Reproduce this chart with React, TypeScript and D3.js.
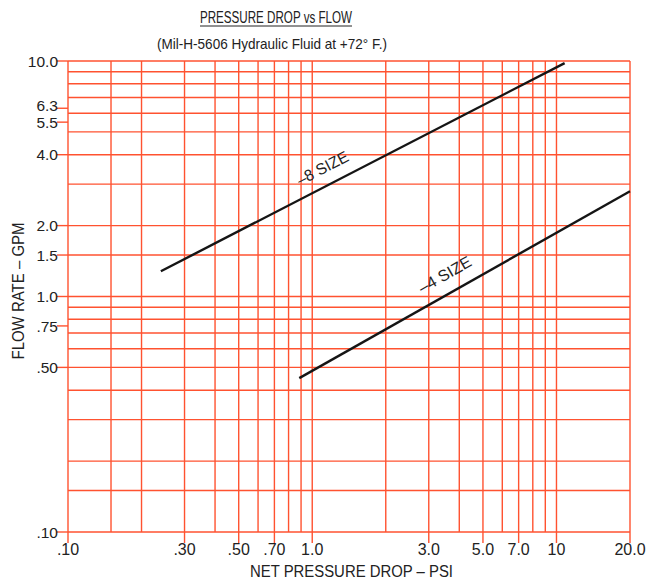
import React from "react";
import * as d3 from "d3";

// ---- data ----
const xGridValues = [0.1, 0.15, 0.2, 0.3, 0.4, 0.5, 0.6, 0.7, 0.8, 0.9, 1, 2, 3, 4, 5, 6, 7, 8, 9, 10, 20];
const yGridValues = [0.1, 0.15, 0.2, 0.3, 0.4, 0.5, 0.6, 0.7, 0.8, 0.9, 1, 1.5, 2, 3, 4, 5, 6, 7, 8, 9, 10];
const xTickValues = [0.1, 0.3, 0.5, 0.7, 1, 3, 5, 7, 10, 20];
const xTickLabels = [".10", ".30", ".50", ".70", "1.0", "3.0", "5.0", "7.0", "10", "20.0"];
const yTickValues = [10, 6.3, 5.5, 4, 2, 1.5, 1, 0.75, 0.5, 0.1];
const yTickLabels = ["10.0", "6.3", "5.5", "4.0", "2.0", "1.5", "1.0", ".75", ".50", ".10"];

const size8Pressure = [0.24, 10.8];
const size8Flow = [1.28, 9.8];
const size4Pressure = [0.885, 20];
const size4Flow = [0.45, 2.8];

const seriesNames = ["\u20138 SIZE", "\u20134 SIZE"];
const labelPressure = [0.94, 3.0];

const W = 649;
const H = 580;
const GRID = "#ff5230";
const INK = "#222";

export default function App() {
  const x = d3.scaleLog().domain([0.1, 20]).range([68, 630]);
  const y = d3.scaleLog().domain([0.1, 10]).range([532, 61]);
  const line = d3
    .line<[number, number]>()
    .x((d) => x(d[0]))
    .y((d) => y(d[1]));

  const series = [
    { p: size8Pressure, f: size8Flow, name: seriesNames[0], lp: labelPressure[0], off: 12, len: 56 },
    { p: size4Pressure, f: size4Flow, name: seriesNames[1], lp: labelPressure[1], off: 13, len: 58 },
  ];

  const font = "'Liberation Sans', Arial, sans-serif";

  return (
    <svg width={W} height={H} style={{ position: "absolute", left: 0, top: 0, background: "#fff" }} fontFamily={font}>
      <rect width={W} height={H} fill="#fff" />
      {/* titles */}
      <text x={276} y={23} textAnchor="middle" fontSize={16} fill={INK} textLength={152} lengthAdjust="spacingAndGlyphs">
        PRESSURE DROP vs FLOW
      </text>
      <line x1={200} x2={352} y1={26} y2={26} stroke={INK} strokeWidth={1} />
      <text x={272} y={49} textAnchor="middle" fontSize={15} fill={INK} textLength={230} lengthAdjust="spacingAndGlyphs">
        (Mil-H-5606  Hydraulic Fluid at  +72° F.)
      </text>

      {/* grid */}
      {xGridValues.map((v) => (
        <line key={"gx" + v} x1={x(v)} x2={x(v)} y1={y(10)} y2={y(0.1)} stroke={GRID} strokeWidth={1.4} />
      ))}
      {yGridValues.map((v) => (
        <line key={"gy" + v} x1={x(0.1)} x2={x(20)} y1={y(v)} y2={y(v)} stroke={GRID} strokeWidth={1.4} />
      ))}

      {/* y ticks */}
      {yTickValues.map((v, i) => (
        <g key={"yt" + v}>
          <line x1={x(0.1) - 11} x2={x(0.1)} y1={y(v)} y2={y(v)} stroke={GRID} strokeWidth={1.4} />
          <text
            x={x(0.1) - 10}
            y={y(v) + (v === 6.3 ? -3 : 0)}
            dy="0.36em"
            textAnchor="end"
            fontSize={15.5}
            fill={INK}
          >
            {yTickLabels[i]}
          </text>
        </g>
      ))}

      {/* x ticks */}
      {xTickValues.map((v, i) => (
        <g key={"xt" + v}>
          <line x1={x(v)} x2={x(v)} y1={y(0.1)} y2={y(0.1) + 11} stroke={GRID} strokeWidth={1.4} />
          <text x={x(v)} y={555} textAnchor="middle" fontSize={16} fill={INK}>
            {xTickLabels[i]}
          </text>
        </g>
      ))}

      {/* axis titles */}
      <text
        transform={`translate(24,291) rotate(-90)`}
        textAnchor="middle"
        fontSize={16}
        fill={INK}
        textLength={137}
        lengthAdjust="spacingAndGlyphs"
      >
        FLOW RATE – GPM
      </text>
      <text x={351.5} y={577} textAnchor="middle" fontSize={16} fill={INK} textLength={203} lengthAdjust="spacingAndGlyphs">
        NET PRESSURE DROP – PSI
      </text>

      {/* series */}
      {series.map((s) => {
        const pts: [number, number][] = s.p.map((p, i) => [p, s.f[i]]);
        const x0 = x(s.p[0]), y0 = y(s.f[0]), x1 = x(s.p[1]), y1 = y(s.f[1]);
        const ang = (Math.atan2(y1 - y0, x1 - x0) * 180) / Math.PI;
        const lx = x(s.lp);
        const ly = y0 + ((lx - x0) * (y1 - y0)) / (x1 - x0);
        return (
          <g key={s.name}>
            <path d={line(pts) || ""} fill="none" stroke="#151515" strokeWidth={2.4} />
            <text
              transform={`translate(${lx},${ly}) rotate(${ang})`}
              y={-s.off}
              fontSize={16}
              fill={INK}
              textLength={s.len}
              lengthAdjust="spacingAndGlyphs"
            >
              {s.name}
            </text>
          </g>
        );
      })}
    </svg>
  );
}
